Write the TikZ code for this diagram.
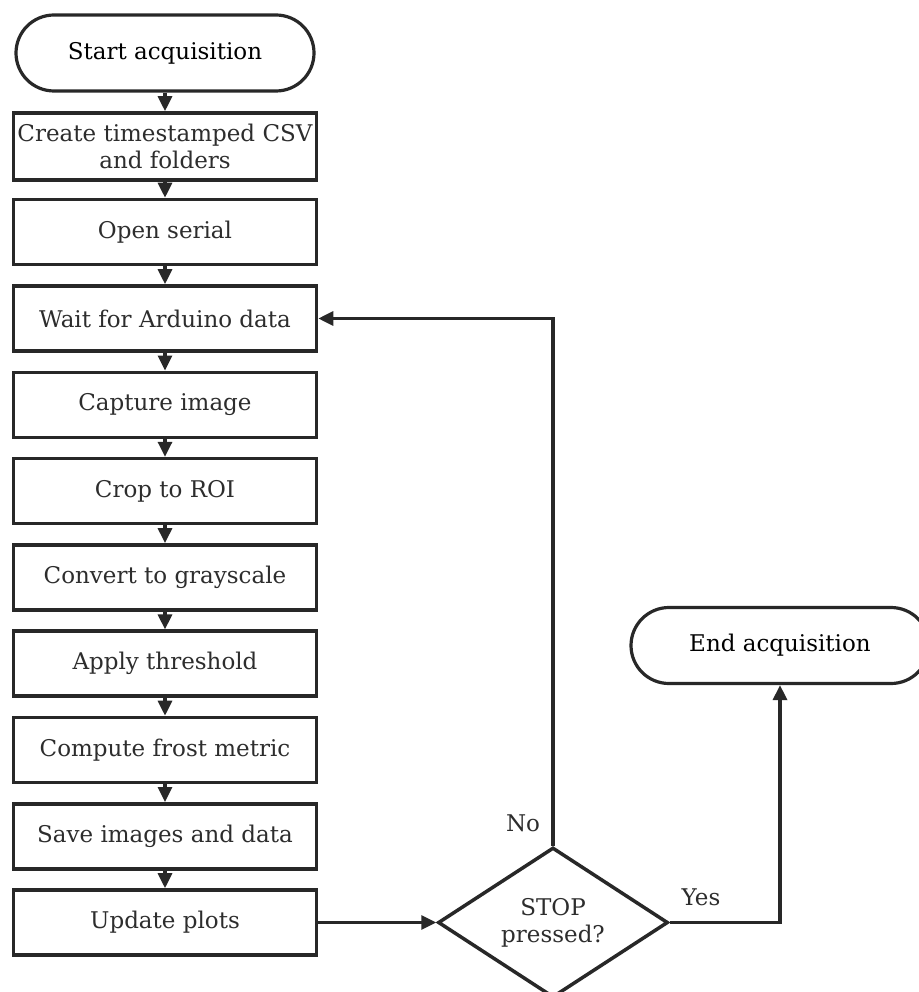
\documentclass[tikz,border=0pt]{standalone}
\usepackage{fontspec}
\setmainfont{DejaVu Serif}
\usetikzlibrary{shapes.geometric,arrows.meta}
\definecolor{ink}{RGB}{40,40,40}
\definecolor{txt}{RGB}{45,45,45}
\begin{document}
\begin{tikzpicture}[x=1pt,y=-1pt,
  font=\fontsize{23}{27}\selectfont,
  terminal/.style={draw=ink, line width=3.2pt, rounded corners=38pt,
    minimum width=298pt, minimum height=76pt, inner sep=0pt, text=black},
  procbox/.style={draw=ink, line width=3.6pt, rectangle,
    minimum width=303pt, minimum height=65pt, inner sep=0pt, text=txt, align=center},
  decision/.style={draw=ink, line width=3.5pt, diamond, aspect=1.53,
    minimum width=230pt, minimum height=150pt, inner sep=0pt, text=txt, align=center},
  flow/.style={draw=ink, line width=3.2pt, -{Triangle[length=15pt,width=14pt]}},
  lbl/.style={text=txt, inner sep=0pt}
]
\useasboundingbox (0,0) rectangle (918,992);
\fill[white] (0,0) rectangle (918,992);

% main column
\node[terminal] (start) at (165,53) {Start acquisition};
\node[procbox, minimum height=67pt] (create) at (165,146.5) {Create timestamped CSV\\and folders};
\node[procbox] (open) at (165,232) {Open serial};
\node[procbox] (wait) at (165,318.5) {Wait for Arduino data};
\node[procbox] (capture) at (165,404.8) {Capture image};
\node[procbox] (crop) at (165,491.1) {Crop to ROI};
\node[procbox] (gray) at (165,577.4) {Convert to grayscale};
\node[procbox] (thresh) at (165,663.7) {Apply threshold};
\node[procbox] (metric) at (165,750) {Compute frost metric};
\node[procbox] (save) at (165,836.3) {Save images and data};
\node[procbox] (update) at (165,922.5) {Update plots};

% decision and end
\node[decision] (stop) at (553,922.5) {STOP\\pressed?};
\node[terminal] (finish) at (780,645.5) {End acquisition};

% straight-down flow
\draw[flow] (start) -- (create);
\draw[flow] (create) -- (open);
\draw[flow] (open) -- (wait);
\draw[flow] (wait) -- (capture);
\draw[flow] (capture) -- (crop);
\draw[flow] (crop) -- (gray);
\draw[flow] (gray) -- (thresh);
\draw[flow] (thresh) -- (metric);
\draw[flow] (metric) -- (save);
\draw[flow] (save) -- (update);
\draw[flow] (update) -- (stop);

% branches
\draw[flow] (stop.north) |- (wait.east);
\draw[flow] (stop.east) -| (finish.south);
\node[lbl] (nolbl) at (523,823) {No};
\node[lbl] (yeslbl) at (701,897) {Yes};
\end{tikzpicture}
\end{document}
